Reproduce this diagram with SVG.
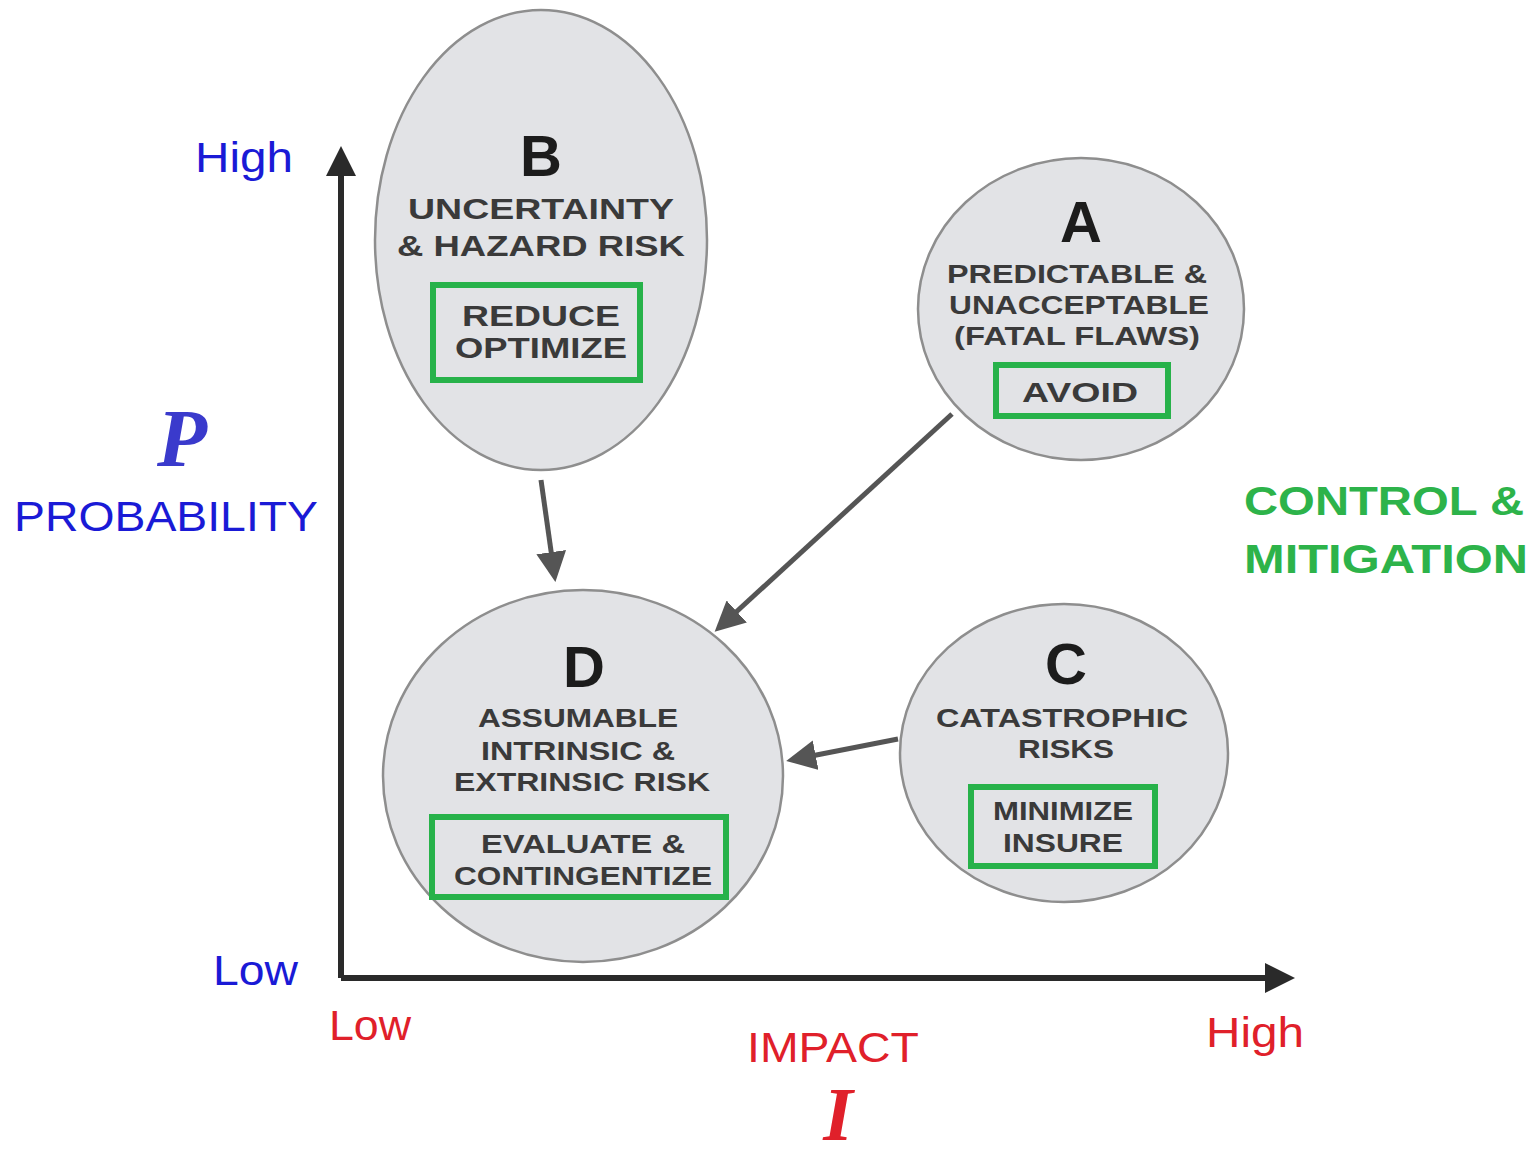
<svg xmlns="http://www.w3.org/2000/svg" width="1535" height="1153" viewBox="0 0 1535 1153">
<style>
.node{fill:#e2e3e6;stroke:#8e8e8e;stroke-width:2.5}
.box{fill:none;stroke:#27b24a;stroke-width:6}
.big{font-family:"Liberation Sans",Arial,sans-serif;font-weight:bold;fill:#1c1c1c;text-anchor:middle}
.t{font-family:"Liberation Sans",Arial,sans-serif;font-weight:bold;fill:#3a3a3a;text-anchor:middle}
.blue{font-family:"Liberation Sans",Arial,sans-serif;fill:#1a1ad6}
.red{font-family:"Liberation Sans",Arial,sans-serif;fill:#e0202a}
.green{font-family:"Liberation Sans",Arial,sans-serif;font-weight:bold;fill:#2db34a}
.conn{stroke:#555;stroke-width:5;fill:none}
</style>
<defs>
<marker id="ah" markerWidth="6" markerHeight="6" refX="4" refY="3" orient="auto" markerUnits="strokeWidth"><path d="M0,0 L6,3 L0,6 Z" fill="#555"/></marker>
<marker id="ax" markerWidth="5" markerHeight="5" refX="3" refY="2.5" orient="auto" markerUnits="strokeWidth"><path d="M0,0 L5,2.5 L0,5 Z" fill="#2a2a2a"/></marker>
</defs>
<rect width="1535" height="1153" fill="#fff"/>
<g id="axes">
<path d="M341,978 L341,158" stroke="#2a2a2a" stroke-width="6" fill="none" marker-end="url(#ax)"/>
<path d="M341,978 L1283,978" stroke="#2a2a2a" stroke-width="6" fill="none" marker-end="url(#ax)"/>
</g>
<g id="connectors">
<path class="conn" d="M541,480 L554,572" marker-end="url(#ah)"/>
<path class="conn" d="M952,414 L722,625" marker-end="url(#ah)"/>
<path class="conn" d="M898,739 L796,759" marker-end="url(#ah)"/>
</g>
<g id="node-B">
<ellipse class="node" cx="541" cy="240" rx="166" ry="230"/>
<text class="big" x="541" y="176" font-size="58">B</text>
<text class="t" x="541" y="219" font-size="29" textLength="266" lengthAdjust="spacingAndGlyphs">UNCERTAINTY</text>
<text class="t" x="541" y="256" font-size="29" textLength="288" lengthAdjust="spacingAndGlyphs">&amp; HAZARD RISK</text>
<rect class="box" x="433" y="285" width="207" height="95"/>
<text class="t" x="541" y="326" font-size="29" textLength="158" lengthAdjust="spacingAndGlyphs">REDUCE</text>
<text class="t" x="541" y="358" font-size="29" textLength="172" lengthAdjust="spacingAndGlyphs">OPTIMIZE</text>
</g>
<g id="node-A">
<ellipse class="node" cx="1081" cy="309" rx="163" ry="151"/>
<text class="big" x="1081" y="242" font-size="58">A</text>
<text class="t" x="1077" y="283" font-size="26" textLength="260" lengthAdjust="spacingAndGlyphs">PREDICTABLE &amp;</text>
<text class="t" x="1079" y="314" font-size="26" textLength="260" lengthAdjust="spacingAndGlyphs">UNACCEPTABLE</text>
<text class="t" x="1077" y="345" font-size="26" textLength="246" lengthAdjust="spacingAndGlyphs">(FATAL FLAWS)</text>
<rect class="box" x="996" y="365" width="172" height="51"/>
<text class="t" x="1080" y="402" font-size="28" textLength="116" lengthAdjust="spacingAndGlyphs">AVOID</text>
</g>
<g id="node-D">
<ellipse class="node" cx="583" cy="776" rx="200" ry="186"/>
<text class="big" x="584" y="687" font-size="58">D</text>
<text class="t" x="578" y="727" font-size="26" textLength="200" lengthAdjust="spacingAndGlyphs">ASSUMABLE</text>
<text class="t" x="578" y="760" font-size="26" textLength="194" lengthAdjust="spacingAndGlyphs">INTRINSIC &amp;</text>
<text class="t" x="582" y="791" font-size="26" textLength="256" lengthAdjust="spacingAndGlyphs">EXTRINSIC RISK</text>
<rect class="box" x="432" y="817" width="294" height="80"/>
<text class="t" x="583" y="853" font-size="26" textLength="204" lengthAdjust="spacingAndGlyphs">EVALUATE &amp;</text>
<text class="t" x="583" y="885" font-size="26" textLength="258" lengthAdjust="spacingAndGlyphs">CONTINGENTIZE</text>
</g>
<g id="node-C">
<ellipse class="node" cx="1064" cy="753" rx="164" ry="149"/>
<text class="big" x="1066" y="684" font-size="58">C</text>
<text class="t" x="1062" y="727" font-size="26" textLength="252" lengthAdjust="spacingAndGlyphs">CATASTROPHIC</text>
<text class="t" x="1066" y="758" font-size="26" textLength="96" lengthAdjust="spacingAndGlyphs">RISKS</text>
<rect class="box" x="971" y="787" width="184" height="79"/>
<text class="t" x="1063" y="820" font-size="26" textLength="140" lengthAdjust="spacingAndGlyphs">MINIMIZE</text>
<text class="t" x="1063" y="852" font-size="26" textLength="120" lengthAdjust="spacingAndGlyphs">INSURE</text>
</g>
<g id="labels">
<text class="blue" x="195" y="172" font-size="42" textLength="98" lengthAdjust="spacingAndGlyphs">High</text>
<text x="182" y="466" font-size="82" font-family="Liberation Serif,serif" font-style="italic" font-weight="bold" fill="#3a3acc" text-anchor="middle">P</text>
<text class="blue" x="14" y="531" font-size="42" textLength="304" lengthAdjust="spacingAndGlyphs">PROBABILITY</text>
<text class="blue" x="213" y="985" font-size="42" textLength="85" lengthAdjust="spacingAndGlyphs">Low</text>
<text class="red" x="329" y="1040" font-size="42" textLength="82" lengthAdjust="spacingAndGlyphs">Low</text>
<text class="red" x="747" y="1062" font-size="42" textLength="172" lengthAdjust="spacingAndGlyphs">IMPACT</text>
<text class="red" x="1206" y="1047" font-size="42" textLength="98" lengthAdjust="spacingAndGlyphs">High</text>
<text x="838" y="1140" font-size="76" font-family="Liberation Serif,serif" font-style="italic" font-weight="bold" fill="#e0202a" text-anchor="middle">I</text>
<text class="green" x="1244" y="515" font-size="40" textLength="280" lengthAdjust="spacingAndGlyphs">CONTROL &amp;</text>
<text class="green" x="1244" y="573" font-size="40" textLength="284" lengthAdjust="spacingAndGlyphs">MITIGATION</text>
</g>
</svg>
